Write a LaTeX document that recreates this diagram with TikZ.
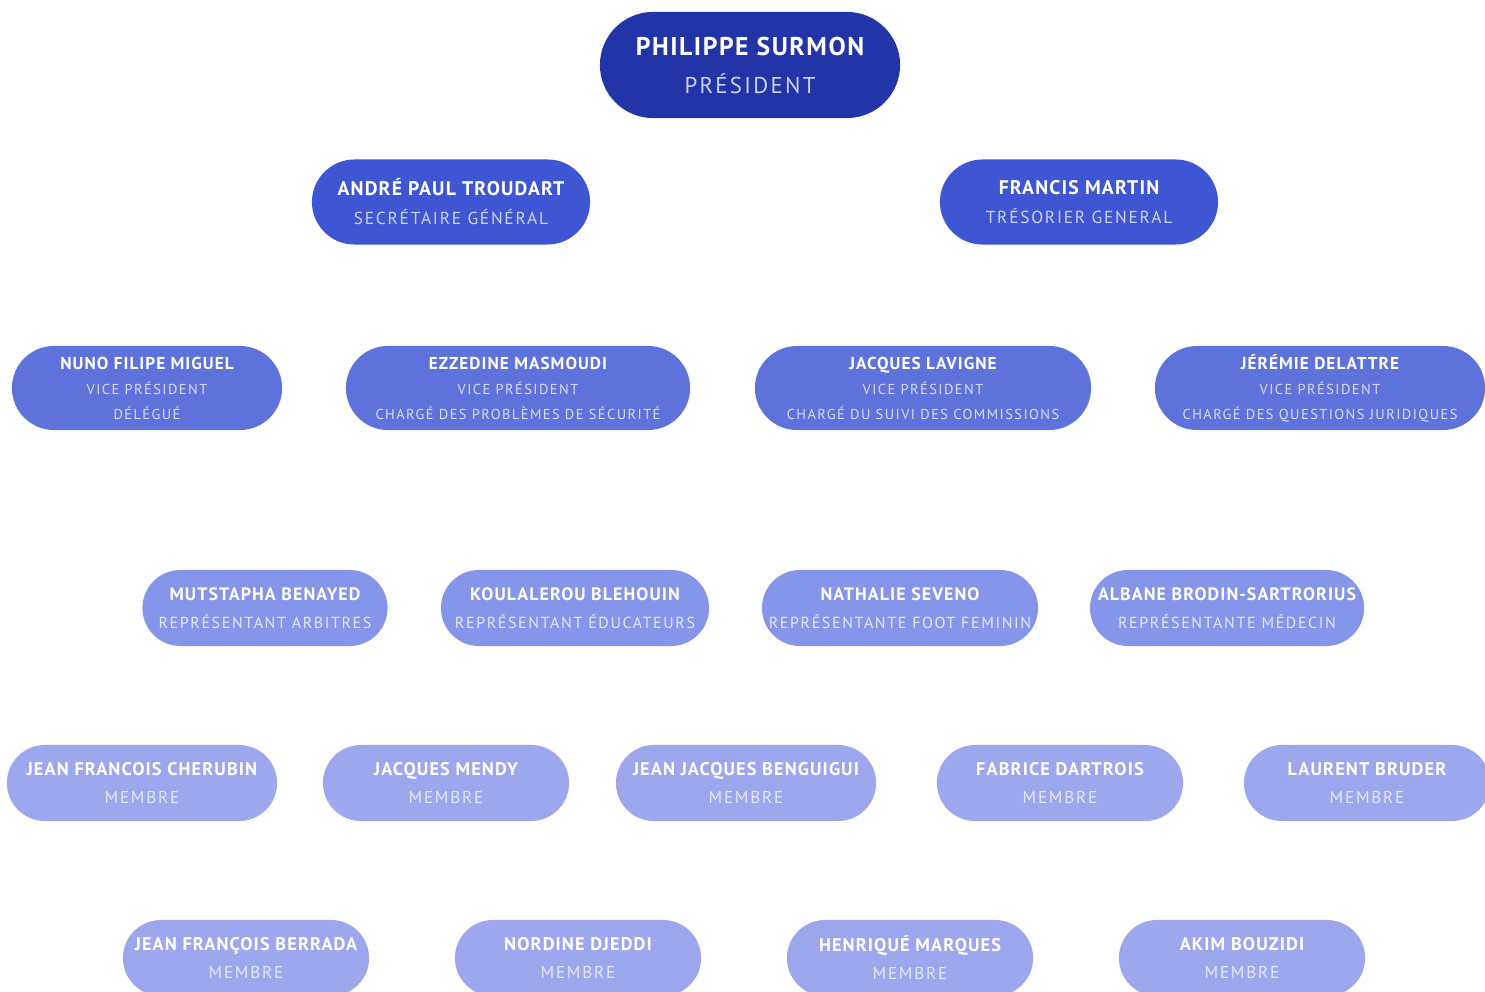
\documentclass[tikz,border=0pt]{standalone}
\usepackage{fontspec}
\setmainfont{PT Sans}
\newfontfamily\namefont[LetterSpace=6]{PT Sans}
\newfontfamily\rolefont[LetterSpace=10]{PT Sans}
\usetikzlibrary{shapes.misc}

\definecolor{bureauA}{RGB}{33,52,168}
\definecolor{bureauB}{RGB}{63,86,212}
\definecolor{bureauC}{RGB}{94,114,220}
\definecolor{bureauD}{RGB}{133,149,234}
\definecolor{bureauE}{RGB}{156,167,238}
\definecolor{roleA}{RGB}{205,210,245}
\definecolor{roleB}{RGB}{215,220,250}
\definecolor{roleC}{RGB}{228,231,252}

\newcommand\rolesize{}
\newcommand\who[2]{{\namefont\bfseries #1}\\{\rolefont\rolesize #2}}
\newcommand\whovp[3]{{\namefont\bfseries #1}\\{\rolefont\rolesize #2}\\{\rolefont\rolesize #3}}

\tikzset{
  pill/.style={rounded rectangle, inner sep=0pt, align=center, text=white},
  chef/.style={pill, fill=bureauA, minimum width=3cm, minimum height=1.06cm,
    font=\def\rolesize{\fontsize{6.5}{10.8}\selectfont\color{roleA}}\fontsize{7.3}{10.8}\selectfont},
  adjoint/.style={pill, fill=bureauB, minimum width=2.78cm, minimum height=0.85cm,
    font=\def\rolesize{\fontsize{4.95}{8.25}\selectfont\color{roleA}}\fontsize{5.6}{8.25}\selectfont},
  vicepres/.style={pill, fill=bureauC, minimum height=0.84cm,
    font=\def\rolesize{\fontsize{4.1}{7.1}\selectfont\color{roleB}}\fontsize{4.9}{7.1}\selectfont},
  delegue/.style={pill, fill=bureauD, minimum height=0.76cm,
    font=\def\rolesize{\fontsize{4.55}{8}\selectfont\color{roleC}}\fontsize{5.1}{8}\selectfont},
  membre/.style={pill, fill=bureauE, minimum height=0.76cm, minimum width=2.46cm,
    font=\def\rolesize{\fontsize{4.9}{8}\selectfont\color{roleC}}\fontsize{5.2}{8}\selectfont},
}

\begin{document}
\begin{tikzpicture}[x=0.01cm, y=-0.01cm]
\clip (0,0) rectangle (1485,991);
\fill[white] (0,0) rectangle (1485,991);

% bureau
\node[chef] (pres) at (750,65) {\who{PHILIPPE SURMON}{PRÉSIDENT}};
\node[adjoint] (secr) at (451,202) {\who{ANDRÉ PAUL TROUDART}{SECRÉTAIRE GÉNÉRAL}};
\node[adjoint] (tres) at (1079,202) {\who{FRANCIS MARTIN}{TRÉSORIER GENERAL}};

% vice presidents
\node[vicepres, minimum width=2.70cm] (vp1) at (147,388) {\whovp{NUNO FILIPE MIGUEL}{VICE PRÉSIDENT}{DÉLÉGUÉ}};
\node[vicepres, minimum width=3.44cm] (vp2) at (518,388) {\whovp{EZZEDINE MASMOUDI}{VICE PRÉSIDENT}{CHARGÉ DES PROBLÈMES DE SÉCURITÉ}};
\node[vicepres, minimum width=3.36cm] (vp3) at (923,388) {\whovp{JACQUES LAVIGNE}{VICE PRÉSIDENT}{CHARGÉ DU SUIVI DES COMMISSIONS}};
\node[vicepres, minimum width=3.30cm] (vp4) at (1320,388) {\whovp{JÉRÉMIE DELATTRE}{VICE PRÉSIDENT}{CHARGÉ DES QUESTIONS JURIDIQUES}};

% representants
\node[delegue, minimum width=2.45cm] (rep1) at (265,608) {\who{MUTSTAPHA BENAYED}{REPRÉSENTANT ARBITRES}};
\node[delegue, minimum width=2.68cm] (rep2) at (575,608) {\who{KOULALEROU BLEHOUIN}{REPRÉSENTANT ÉDUCATEURS}};
\node[delegue, minimum width=2.76cm] (rep3) at (900,608) {\who{NATHALIE SEVENO}{REPRÉSENTANTE FOOT FEMININ}};
\node[delegue, minimum width=2.74cm] (rep4) at (1227,608) {\who{ALBANE BRODIN-SARTRORIUS}{REPRÉSENTANTE MÉDECIN}};

% membres
\node[membre, minimum width=2.70cm] (mem1) at (142,783) {\who{JEAN FRANCOIS CHERUBIN}{MEMBRE}};
\node[membre] (mem2) at (446,783) {\who{JACQUES MENDY}{MEMBRE}};
\node[membre, minimum width=2.60cm] (mem3) at (746,783) {\who{JEAN JACQUES BENGUIGUI}{MEMBRE}};
\node[membre] (mem4) at (1060,783) {\who{FABRICE DARTROIS}{MEMBRE}};
\node[membre] (mem5) at (1367,783) {\who{LAURENT BRUDER}{MEMBRE}};
\node[membre] (mem6) at (246,958) {\who{JEAN FRANÇOIS BERRADA}{MEMBRE}};
\node[membre] (mem7) at (578,958) {\who{NORDINE DJEDDI}{MEMBRE}};
\node[membre] (mem8) at (910,958) {\who{HENRIQUÉ MARQUES}{MEMBRE}};
\node[membre] (mem9) at (1242,958) {\who{AKIM BOUZIDI}{MEMBRE}};
\end{tikzpicture}
\end{document}
